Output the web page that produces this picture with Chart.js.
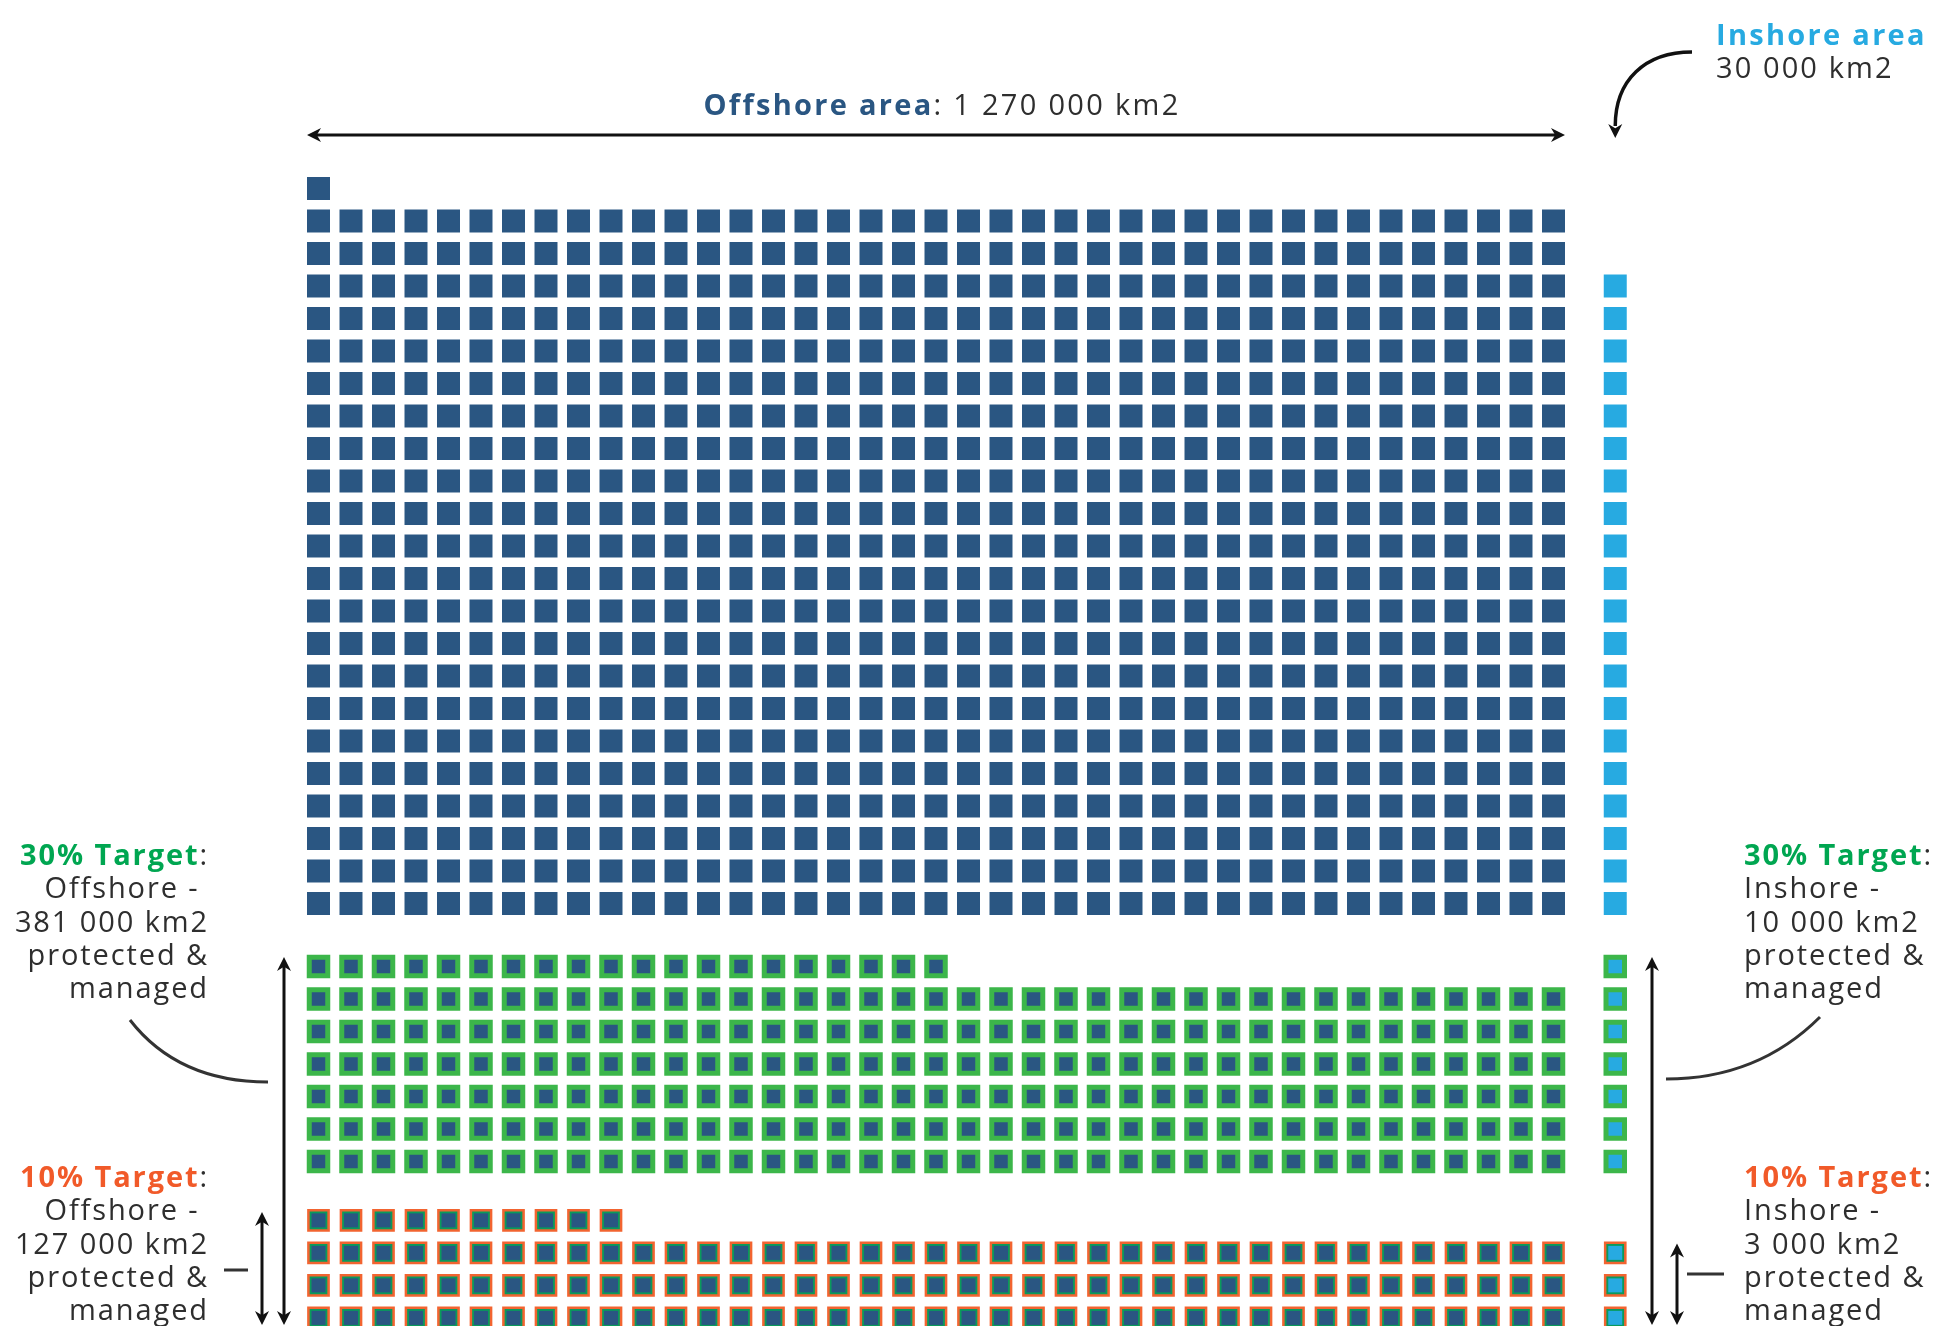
<!DOCTYPE html>
<html>
<head>
<meta charset="utf-8">
<title>Offshore and inshore protection targets</title>
<script src="https://cdn.jsdelivr.net/npm/chart.js@4.4.1/dist/chart.umd.min.js"></script>
<style>
  html, body { margin: 0; padding: 0; background: #fff; overflow: hidden; }
  #wrap { width: 1953px; height: 1326px; }
</style>
</head>
<body>
<div id="wrap"><canvas id="areaChart" width="1953" height="1326"></canvas></div>
<script>
// =======================================
// DATA
// =======================================
const zones = ["Offshore", "Inshore"];
const zoneAreaKm2 = [1270000, 30000];
const target30Km2 = [381000, 10000];
const target10Km2 = [127000, 3000];

// number of squares drawn per zone: [offshore, inshore]
const zoneSquares = [859, 20];
const target30Squares = [254, 7];
const target10Squares = [127, 3];

// =======================================
// GRID LAYOUT
// =======================================
const GRID_COLS = 39;     // offshore squares per row
const INSHORE_COL = 39.9; // inshore column, roughly one empty column to the right
const CELL = 32.5;        // px between square centres
const FIRST_X = 318.5;    // centre of column 0
const FIRST_Y = 188.5;    // centre of row 0
const W = 1953, H = 1326;

// bottom row of each block (blocks are filled upward, remainder top-left)
const zoneBottom = 22;
const target30Bottom = 29.94;
const target10Bottom = 34.75;

const COLORS = {
  navy: "#2a5682",
  sky: "#27aae1",
  green: "#3cb64a",
  deepGreen: "#0a9a5c",
  orange: "#f26430",
  greenText: "#00a651",
  orangeText: "#f15a29",
  text: "#2e2e2e",
  ink: "#111111",
};

function offshoreCells(count, bottomRow) {
  const pts = [];
  const fullRows = Math.floor(count / GRID_COLS);
  const rest = count % GRID_COLS;
  for (let r = 0; r < fullRows; r++) {
    for (let c = 0; c < GRID_COLS; c++) pts.push({ x: c, y: bottomRow - r });
  }
  for (let c = 0; c < rest; c++) pts.push({ x: c, y: bottomRow - fullRows });
  return pts;
}

function inshoreCells(count, bottomRow) {
  return Array.from({ length: count }, (_, i) => ({ x: INSHORE_COL, y: bottomRow - i }));
}

// side of a 'rect' point = radius * sqrt(2)
const rad = (side) => side / Math.SQRT2;

// higher "order" is painted first, so rings go under their centres
function squares(data, fill, side, border, borderWidth, order) {
  return {
    data: data,
    pointStyle: "rect",
    pointRadius: rad(side),
    backgroundColor: fill,
    borderColor: border || fill,
    borderWidth: borderWidth || 0,
    order: order || 1,
  };
}

const datasets = [
  // whole area
  squares(offshoreCells(zoneSquares[0], zoneBottom), COLORS.navy, 23),
  squares(inshoreCells(zoneSquares[1], zoneBottom), COLORS.sky, 23),
  // 30% target
  squares(offshoreCells(target30Squares[0], target30Bottom), COLORS.navy, 18.5, COLORS.green, 5),
  squares(inshoreCells(target30Squares[1], target30Bottom), COLORS.sky, 18.5, COLORS.green, 5),
  // 10% target: orange ring, green ring, then the area colour
  squares(offshoreCells(target10Squares[0], target10Bottom), COLORS.deepGreen, 20.2, COLORS.orange, 2.5, 2),
  squares(inshoreCells(target10Squares[1], target10Bottom), COLORS.deepGreen, 20.2, COLORS.orange, 2.5, 2),
  squares(offshoreCells(target10Squares[0], target10Bottom), COLORS.navy, 14),
  squares(inshoreCells(target10Squares[1], target10Bottom), COLORS.sky, 14),
];

// =======================================
// TEXT + ARROW HELPERS
// =======================================
const FONT = '"Open Sans", "Noto Sans", sans-serif';
const TEXT_SIZE = 29;

function fmt(n) {
  return String(n).replace(/\B(?=(\d{3})+(?!\d))/g, " ");
}

function drawRuns(ctx, runs, x, y, align, tracking) {
  let total = 0;
  runs.forEach((r) => {
    ctx.font = `${r.bold ? "700" : "400"} ${TEXT_SIZE}px ${FONT}`;
    ctx.letterSpacing = tracking + "px";
    r.w = ctx.measureText(r.text).width;
    total += r.w;
  });
  let cx = align === "right" ? x - total : align === "center" ? x - total / 2 : x;
  runs.forEach((r) => {
    ctx.font = `${r.bold ? "700" : "400"} ${TEXT_SIZE}px ${FONT}`;
    ctx.letterSpacing = tracking + "px";
    ctx.fillStyle = r.color;
    ctx.textAlign = "left";
    ctx.textBaseline = "alphabetic";
    ctx.fillText(r.text, cx, y);
    cx += r.w;
  });
}

function arrowHead(ctx, x, y, angle, len, half) {
  ctx.save();
  ctx.translate(x, y);
  ctx.rotate(angle);
  ctx.beginPath();
  ctx.moveTo(0, 0);
  ctx.lineTo(-len, -half);
  ctx.lineTo(-len * 0.7, 0);
  ctx.lineTo(-len, half);
  ctx.closePath();
  ctx.fillStyle = COLORS.ink;
  ctx.fill();
  ctx.restore();
}

function doubleArrow(ctx, x1, y1, x2, y2, width) {
  const ang = Math.atan2(y2 - y1, x2 - x1);
  ctx.strokeStyle = COLORS.ink;
  ctx.lineWidth = width;
  ctx.beginPath();
  ctx.moveTo(x1 + Math.cos(ang) * 6, y1 + Math.sin(ang) * 6);
  ctx.lineTo(x2 - Math.cos(ang) * 6, y2 - Math.sin(ang) * 6);
  ctx.stroke();
  arrowHead(ctx, x2, y2, ang, 14, 7);
  arrowHead(ctx, x1, y1, ang + Math.PI, 14, 7);
}

function labelBlock(ctx, lines, x, y0, align, headColor) {
  const LINE = 33.3;
  lines.forEach((line, i) => {
    const runs = i === 0
      ? [{ text: line[0], color: headColor, bold: true }, { text: ":", color: COLORS.text }]
      : [{ text: line, color: COLORS.text }];
    drawRuns(ctx, runs, x, y0 + i * LINE, align, 1.9);
  });
}

// =======================================
// ANNOTATION PLUGIN
// =======================================
const annotations = {
  id: "annotations",
  afterDatasetsDraw(chart) {
    const ctx = chart.ctx;
    const xs = chart.scales.x, ys = chart.scales.y;
    const half = 11.5;
    ctx.save();

    // offshore span arrow
    const left = xs.getPixelForValue(0) - half;
    const right = xs.getPixelForValue(GRID_COLS - 1) + half;
    doubleArrow(ctx, left, 135, right, 135, 3);
    drawRuns(ctx, [
      { text: zones[0] + " area", color: COLORS.navy, bold: true },
      { text: ": " + fmt(zoneAreaKm2[0]) + " km2", color: COLORS.text },
    ], 942, 115, "center", 2.3);

    // inshore label and curved pointer
    const inX = xs.getPixelForValue(INSHORE_COL);
    drawRuns(ctx, [{ text: zones[1] + " area", color: COLORS.sky, bold: true }], 1716, 45, "left", 2.3);
    drawRuns(ctx, [{ text: fmt(zoneAreaKm2[1]) + " km2", color: COLORS.text }], 1716, 78, "left", 2.1);
    ctx.strokeStyle = COLORS.ink;
    ctx.lineWidth = 3.5;
    ctx.beginPath();
    ctx.moveTo(1692, 52);
    ctx.bezierCurveTo(1645, 52, inX, 80, inX, 126);
    ctx.stroke();
    arrowHead(ctx, inX, 138, Math.PI / 2, 14, 7);

    // vertical extents of the target blocks
    const t30Top = ys.getPixelForValue(target30Bottom - Math.floor(target30Squares[0] / GRID_COLS)) - half;
    const t10Top = ys.getPixelForValue(target10Bottom - Math.floor(target10Squares[0] / GRID_COLS)) - half;
    const t10InTop = ys.getPixelForValue(target10Bottom - target10Squares[1] + 1) - half;
    const bottom = H - 1;

    doubleArrow(ctx, 284, bottom, 284, t30Top + 2, 3);
    doubleArrow(ctx, 262, bottom, 262, t10Top + 3, 3);
    doubleArrow(ctx, 1652, bottom, 1652, t30Top + 2, 3);
    doubleArrow(ctx, 1677, bottom, 1677, t10InTop + 2, 3);

    // leader curves and ticks
    ctx.strokeStyle = "#333333";
    ctx.lineWidth = 3;
    ctx.beginPath();
    ctx.moveTo(130, 1020);
    ctx.quadraticCurveTo(178, 1082, 268, 1082);
    ctx.moveTo(1666, 1079);
    ctx.quadraticCurveTo(1758, 1079, 1820, 1017);
    ctx.moveTo(224, 1270);
    ctx.lineTo(248, 1270);
    ctx.moveTo(1687, 1274);
    ctx.lineTo(1724, 1274);
    ctx.stroke();

    // target labels
    labelBlock(ctx, [["30% Target"], zones[0] + " - ", fmt(target30Km2[0]) + " km2", "protected &", "managed"],
      209, 865, "right", COLORS.greenText);
    labelBlock(ctx, [["10% Target"], zones[0] + " - ", fmt(target10Km2[0]) + " km2", "protected &", "managed"],
      209, 1187, "right", COLORS.orangeText);
    labelBlock(ctx, [["30% Target"], zones[1] + " -", fmt(target30Km2[1]) + " km2", "protected &", "managed"],
      1744, 865, "left", COLORS.greenText);
    labelBlock(ctx, [["10% Target"], zones[1] + " -", fmt(target10Km2[1]) + " km2", "protected &", "managed"],
      1744, 1187, "left", COLORS.orangeText);

    ctx.restore();
  },
};

// =======================================
// CHART
// =======================================
const xMin = -FIRST_X / CELL;
const yMin = -FIRST_Y / CELL;

new Chart(document.getElementById("areaChart").getContext("2d"), {
  type: "scatter",
  data: { datasets: datasets },
  options: {
    responsive: false,
    animation: false,
    events: [],
    layout: { padding: 0, autoPadding: false },
    plugins: { legend: { display: false }, tooltip: { enabled: false } },
    scales: {
      x: { type: "linear", display: false, min: xMin, max: xMin + W / CELL },
      y: { type: "linear", display: false, reverse: true, min: yMin, max: yMin + H / CELL },
    },
  },
  plugins: [annotations],
});
</script>
</body>
</html>
